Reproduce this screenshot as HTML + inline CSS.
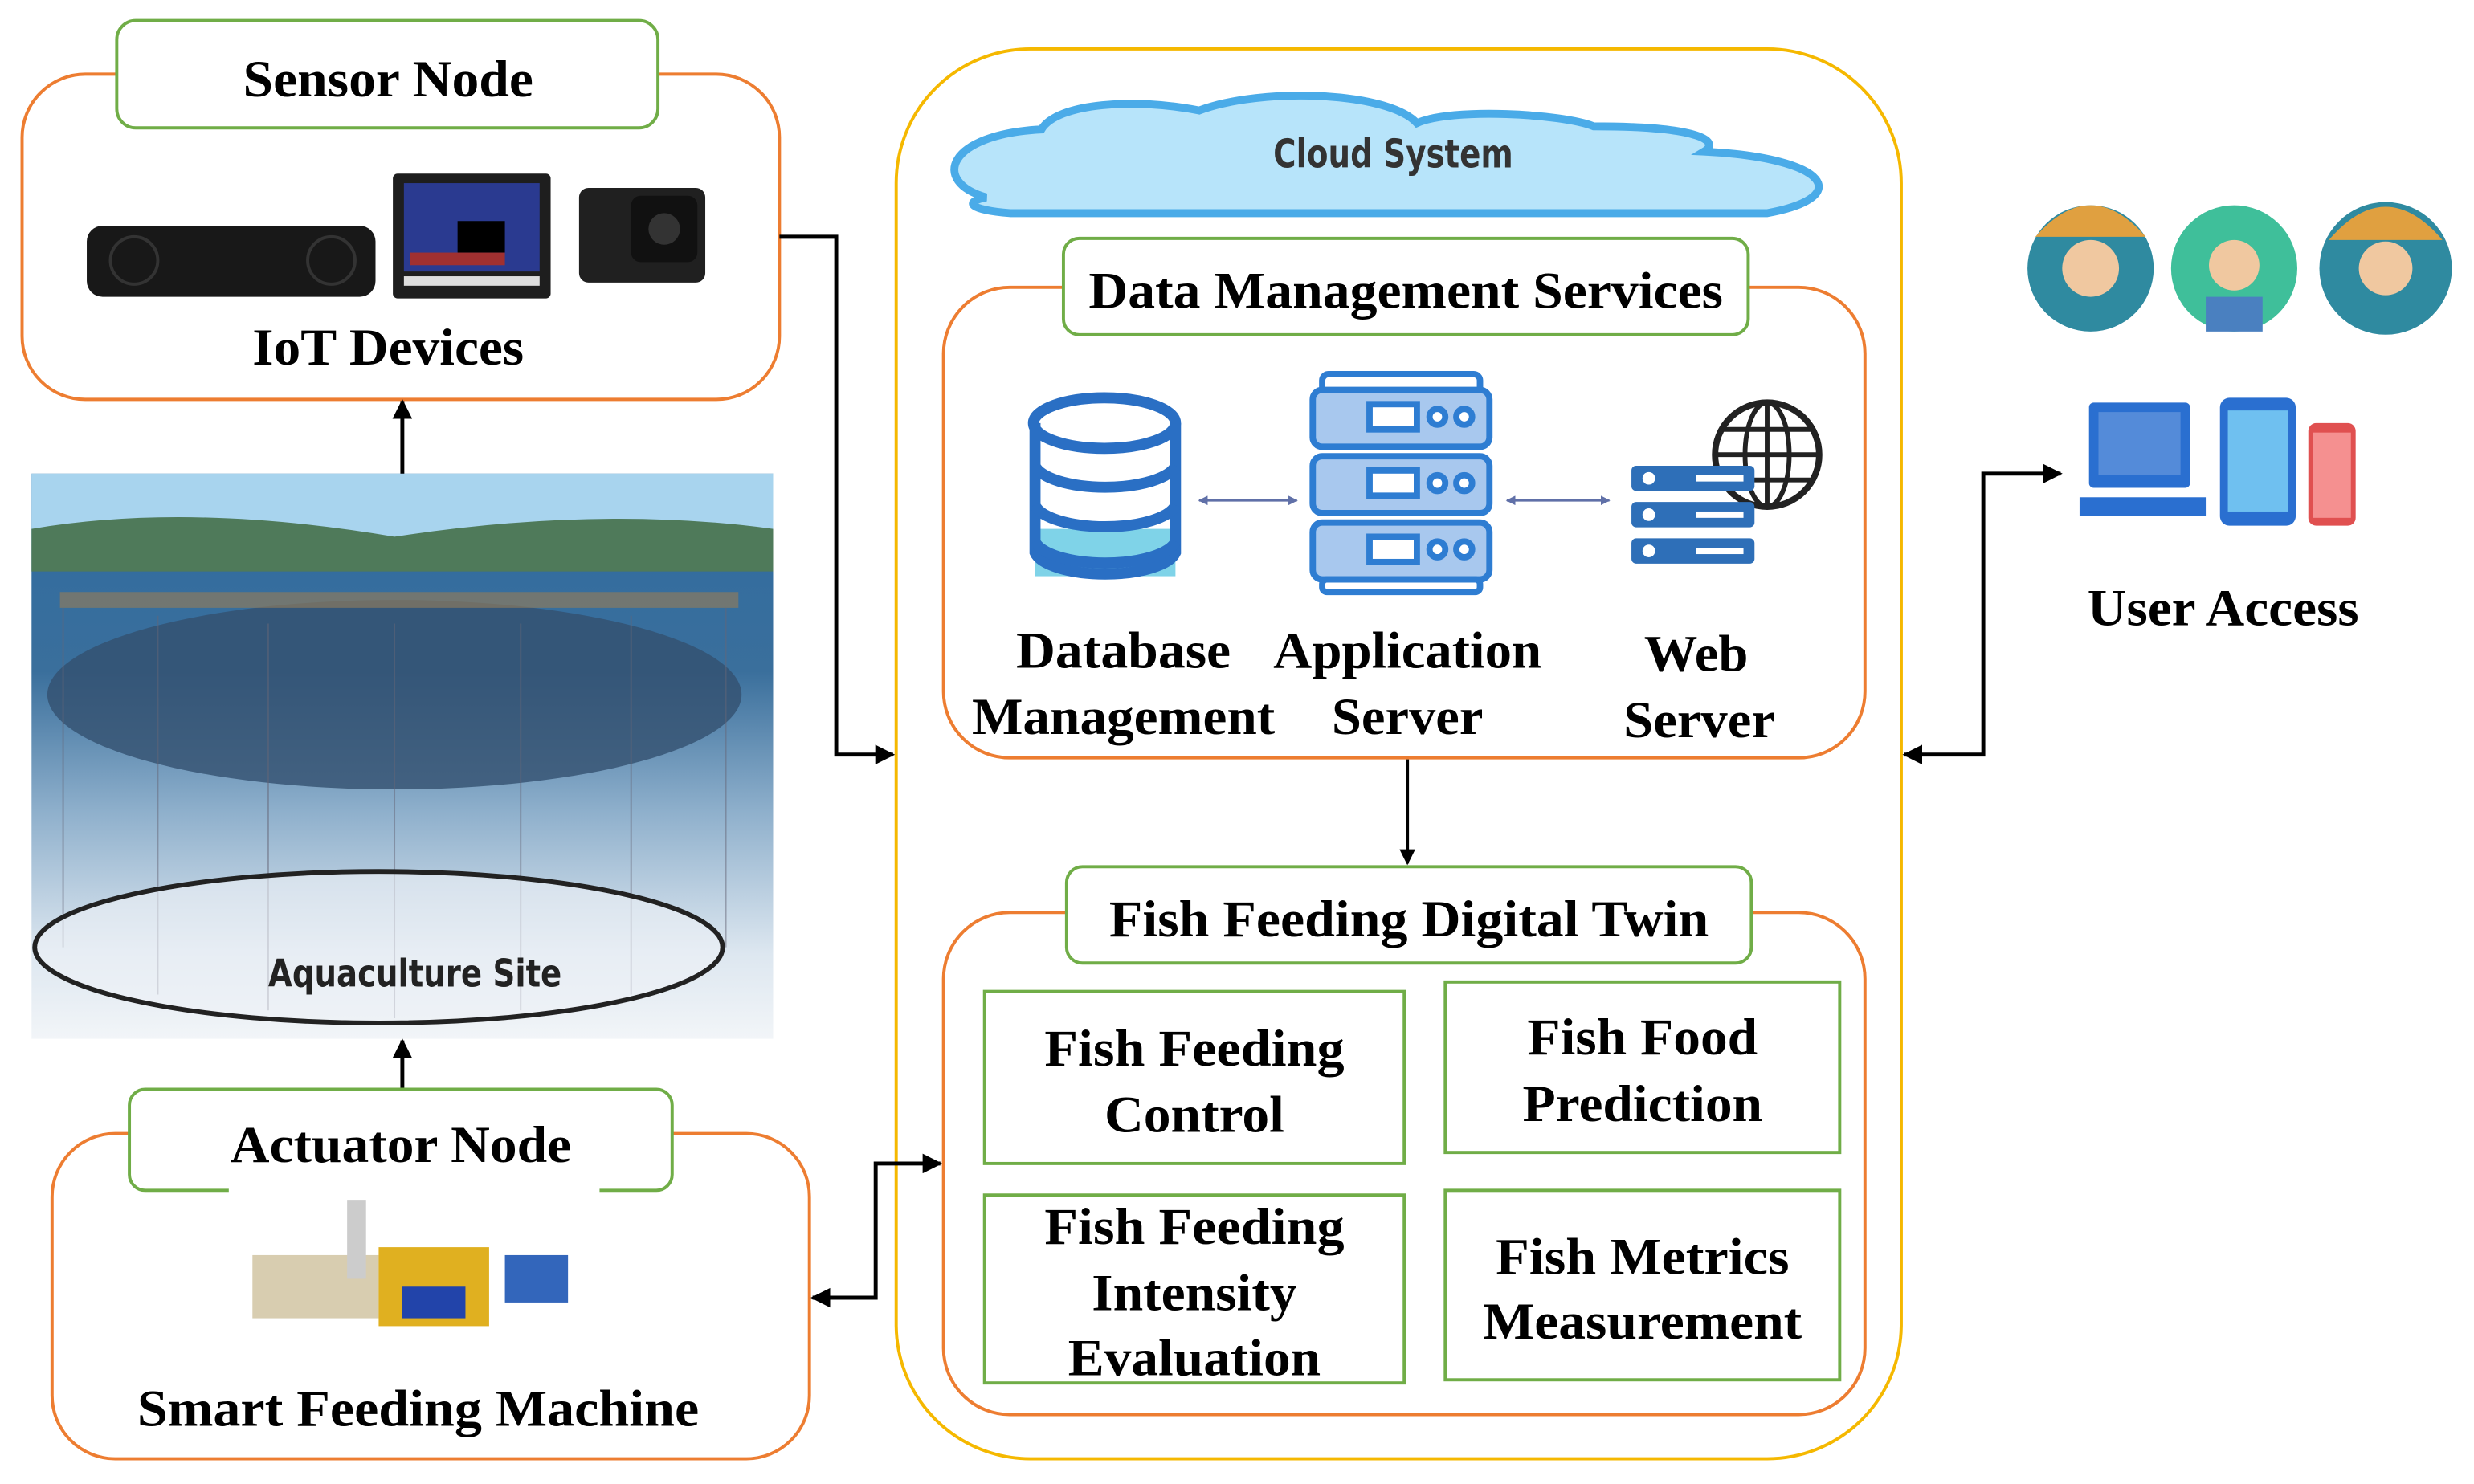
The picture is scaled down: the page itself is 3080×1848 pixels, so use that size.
<!DOCTYPE html>
<html><head><meta charset="utf-8"><style>html,body{margin:0;padding:0;background:#fff}svg{display:block}</style></head>
<body>
<svg width="3080" height="1848" viewBox="0 0 1568 940" preserveAspectRatio="none" xmlns="http://www.w3.org/2000/svg">
<defs>
<marker id="ah" viewBox="0 0 10 10" refX="9" refY="5" markerWidth="5" markerHeight="5" orient="auto-start-reverse"><path d="M0,0L10,5L0,10z" fill="#000"/></marker>
<marker id="bh" viewBox="0 0 10 10" refX="9" refY="5" markerWidth="4" markerHeight="4" orient="auto-start-reverse"><path d="M0,0L10,5L0,10z" fill="#6070a8"/></marker>
<linearGradient id="sea" x1="0" y1="0" x2="0" y2="1">
<stop offset="0" stop-color="#2f6ba0"/><stop offset="0.35" stop-color="#3a6f9c"/><stop offset="0.6" stop-color="#8fb0cc"/><stop offset="0.85" stop-color="#dde7f0"/><stop offset="1" stop-color="#f2f5f8"/></linearGradient>
</defs>
<g font-family="Liberation Serif, serif" font-weight="bold" fill="#000" text-anchor="middle">
<!-- cloud system container -->
<rect x="568" y="31" width="637" height="893" rx="85" fill="none" stroke="#f5b800" stroke-width="2"/>
<path d="M625,125 C590,115 600,85 660,82 C670,65 720,62 760,70 C800,55 880,58 898,78 C920,68 990,72 1010,80 C1080,80 1090,90 1080,96 C1160,100 1175,125 1120,135 L640,135 C615,133 610,128 625,125Z" fill="#b7e4fa" stroke="#4aabe8" stroke-width="5"/>
<text x="883" y="106" font-family="DejaVu Sans Condensed, Liberation Sans, sans-serif" font-size="25" fill="#333" textLength="152" lengthAdjust="spacingAndGlyphs">Cloud System</text>
<!-- DMS -->
<rect x="598" y="182" width="584" height="298" rx="42" fill="none" stroke="#ed7d31" stroke-width="2"/>
<rect x="674" y="151" width="434" height="61" rx="10" fill="#fff" stroke="#70ad47" stroke-width="2"/>
<text x="891" y="195" font-size="33" textLength="402" lengthAdjust="spacingAndGlyphs">Data Management Services</text>
<!-- database icon -->
<g fill="none" stroke="#2a6fc4" stroke-width="7">
<rect x="656" y="335" width="89" height="30" fill="#7fd3e8" stroke="none"/>
<ellipse cx="700" cy="268" rx="45" ry="16" fill="#fff"/>
<path d="M656,268 L656,350 A45,16 0 0 0 745,350 L745,268"/>
<path d="M656,295 A45,16 0 0 0 745,295 M656,320 A45,16 0 0 0 745,320 M656,343 A45,16 0 0 0 745,343"/>
</g>
<!-- app server -->
<g fill="#a8c8ee" stroke="#2e7dd2" stroke-width="4">
<rect x="838" y="237" width="100" height="12" rx="4" fill="#fff"/>
<rect x="832" y="247" width="112" height="36" rx="6"/>
<rect x="832" y="289" width="112" height="36" rx="6"/>
<rect x="832" y="331" width="112" height="36" rx="6"/>
<rect x="838" y="367" width="100" height="8" rx="3" fill="#fff"/>
<rect x="868" y="256" width="30" height="16" fill="#fff"/><rect x="868" y="298" width="30" height="16" fill="#fff"/><rect x="868" y="340" width="30" height="16" fill="#fff"/>
<circle cx="911" cy="264" r="5" fill="#fff"/><circle cx="928" cy="264" r="5" fill="#fff"/>
<circle cx="911" cy="306" r="5" fill="#fff"/><circle cx="928" cy="306" r="5" fill="#fff"/>
<circle cx="911" cy="348" r="5" fill="#fff"/><circle cx="928" cy="348" r="5" fill="#fff"/>
</g>
<!-- web server -->
<g>
<circle cx="1120" cy="288" r="33" fill="none" stroke="#222" stroke-width="4"/>
<ellipse cx="1120" cy="288" rx="14" ry="33" fill="none" stroke="#222" stroke-width="3"/>
<path d="M1087,288H1153M1120,255V321M1092,272H1148M1092,304H1148" stroke="#222" stroke-width="3"/>
<rect x="1034" y="295" width="78" height="16" rx="3" fill="#2e6fb8"/>
<rect x="1034" y="318" width="78" height="16" rx="3" fill="#2e6fb8"/>
<rect x="1034" y="341" width="78" height="16" rx="3" fill="#2e6fb8"/>
<g fill="#fff"><circle cx="1045" cy="303" r="4"/><circle cx="1045" cy="326" r="4"/><circle cx="1045" cy="349" r="4"/>
<rect x="1075" y="301" width="30" height="4"/><rect x="1075" y="324" width="30" height="4"/><rect x="1075" y="347" width="30" height="4"/></g>
</g>
<line x1="760" y1="317" x2="822" y2="317" stroke="#6070a8" stroke-width="1.5" marker-start="url(#bh)" marker-end="url(#bh)"/>
<line x1="955" y1="317" x2="1020" y2="317" stroke="#6070a8" stroke-width="1.5" marker-start="url(#bh)" marker-end="url(#bh)"/>
<g font-size="33">
<text x="712" y="423" textLength="136" lengthAdjust="spacingAndGlyphs">Database</text>
<text x="712" y="465" textLength="192" lengthAdjust="spacingAndGlyphs">Management</text>
<text x="892" y="423" textLength="170" lengthAdjust="spacingAndGlyphs">Application</text>
<text x="892" y="465" textLength="96" lengthAdjust="spacingAndGlyphs">Server</text>
<text x="1075" y="425" textLength="66" lengthAdjust="spacingAndGlyphs">Web</text>
<text x="1077" y="467" textLength="96" lengthAdjust="spacingAndGlyphs">Server</text>
</g>
<line x1="892" y1="481" x2="892" y2="547" stroke="#000" stroke-width="2" marker-end="url(#ah)"/>
<!-- FFDT -->
<rect x="598" y="578" width="584" height="318" rx="42" fill="none" stroke="#ed7d31" stroke-width="2"/>
<rect x="676" y="549" width="434" height="61" rx="10" fill="#fff" stroke="#70ad47" stroke-width="2"/>
<text x="893" y="593" font-size="33" textLength="380" lengthAdjust="spacingAndGlyphs">Fish Feeding Digital Twin</text>
<g fill="#fff" stroke="#70ad47" stroke-width="2">
<rect x="624" y="628" width="266" height="109"/><rect x="916" y="622" width="250" height="108"/>
<rect x="624" y="757" width="266" height="119"/><rect x="916" y="754" width="250" height="120"/>
</g>
<g font-size="33">
<text x="757" y="675" textLength="190" lengthAdjust="spacingAndGlyphs">Fish Feeding</text>
<text x="757" y="717" textLength="114" lengthAdjust="spacingAndGlyphs">Control</text>
<text x="1041" y="668" textLength="146" lengthAdjust="spacingAndGlyphs">Fish Food</text>
<text x="1041" y="710" textLength="152" lengthAdjust="spacingAndGlyphs">Prediction</text>
<text x="757" y="788" textLength="190" lengthAdjust="spacingAndGlyphs">Fish Feeding</text>
<text x="757" y="830" textLength="130" lengthAdjust="spacingAndGlyphs">Intensity</text>
<text x="757" y="871" textLength="160" lengthAdjust="spacingAndGlyphs">Evaluation</text>
<text x="1041" y="807" textLength="186" lengthAdjust="spacingAndGlyphs">Fish Metrics</text>
<text x="1041" y="848" textLength="202" lengthAdjust="spacingAndGlyphs">Measurement</text>
</g>
<!-- sensor node -->
<rect x="14" y="47" width="480" height="206" rx="40" fill="none" stroke="#ed7d31" stroke-width="2"/>
<rect x="74" y="13" width="343" height="68" rx="12" fill="#fff" stroke="#70ad47" stroke-width="2"/>
<text x="246" y="61" font-size="33" textLength="184" lengthAdjust="spacingAndGlyphs">Sensor Node</text>
<rect x="55" y="143" width="183" height="45" rx="10" fill="#181818"/>
<circle cx="85" cy="165" r="15" fill="none" stroke="#333" stroke-width="2"/><circle cx="210" cy="165" r="15" fill="none" stroke="#333" stroke-width="2"/>
<rect x="249" y="110" width="100" height="79" rx="3" fill="#1e1e1e"/>
<rect x="256" y="116" width="86" height="56" fill="#2a3a90"/><rect x="290" y="140" width="30" height="20" fill="#000"/><rect x="260" y="160" width="60" height="8" fill="#a03030"/>
<rect x="256" y="175" width="86" height="6" fill="#ddd"/>
<rect x="367" y="119" width="80" height="60" rx="6" fill="#202020"/><rect x="400" y="124" width="42" height="42" rx="6" fill="#111"/><circle cx="421" cy="145" r="10" fill="#333"/>
<text x="246" y="231" font-size="33" textLength="172" lengthAdjust="spacingAndGlyphs">IoT Devices</text>
<!-- aquaculture -->
<rect x="20" y="300" width="470" height="358" fill="url(#sea)"/>
<rect x="20" y="300" width="470" height="45" fill="#a8d4ee"/>
<path d="M20,335 Q120,318 250,340 Q380,320 490,335 L490,362 L20,362Z" fill="#4f7a5a"/>
<ellipse cx="250" cy="440" rx="220" ry="60" fill="#33506f" opacity="0.8"/>
<rect x="38" y="375" width="430" height="10" fill="#8a7a60" opacity="0.7"/>
<path d="M40,385 L40,600 M100,390 L100,630 M170,395 L170,640 M250,395 L250,645 M330,395 L330,640 M400,390 L400,630 M460,385 L460,600" stroke="#667" stroke-width="1" opacity="0.5"/>
<ellipse cx="240" cy="600" rx="218" ry="48" fill="#eef2f6" fill-opacity="0.6" stroke="#222" stroke-width="3"/>
<text x="263" y="625" font-family="DejaVu Sans Condensed, Liberation Sans, sans-serif" font-size="24" fill="#222" textLength="186" lengthAdjust="spacingAndGlyphs">Aquaculture Site</text>
<line x1="255" y1="300" x2="255" y2="254" stroke="#000" stroke-width="2.5" marker-end="url(#ah)"/>
<line x1="255" y1="690" x2="255" y2="659" stroke="#000" stroke-width="2.5" marker-end="url(#ah)"/>
<!-- actuator -->
<rect x="33" y="718" width="480" height="206" rx="40" fill="none" stroke="#ed7d31" stroke-width="2"/>
<rect x="82" y="690" width="344" height="64" rx="10" fill="#fff" stroke="#70ad47" stroke-width="2"/>
<rect x="145" y="745" width="235" height="14" fill="#fff"/>
<text x="254" y="736" font-size="33" textLength="216" lengthAdjust="spacingAndGlyphs">Actuator Node</text>
<rect x="160" y="795" width="80" height="40" fill="#d8cdb0"/><rect x="220" y="760" width="12" height="50" fill="#ccc"/>
<rect x="240" y="790" width="70" height="50" fill="#e0b020"/><rect x="255" y="815" width="40" height="20" fill="#2244aa"/>
<rect x="320" y="795" width="40" height="30" fill="#3366bb"/>
<text x="265" y="903" font-size="33" textLength="356" lengthAdjust="spacingAndGlyphs">Smart Feeding Machine</text>
<!-- connectors -->
<polyline points="494,150 530,150 530,478 566,478" fill="none" stroke="#000" stroke-width="2.5" marker-end="url(#ah)"/>
<polyline points="515,822 555,822 555,737 596,737" fill="none" stroke="#000" stroke-width="2.5" marker-start="url(#ah)" marker-end="url(#ah)"/>
<polyline points="1207,478 1257,478 1257,300 1306,300" fill="none" stroke="#000" stroke-width="2.5" marker-start="url(#ah)" marker-end="url(#ah)"/>
<!-- users -->
<circle cx="1325" cy="170" r="40" fill="#2f8aa0"/><circle cx="1325" cy="170" r="18" fill="#f0c8a0"/><path d="M1290,150 Q1325,110 1360,150Z" fill="#e0a040"/>
<circle cx="1416" cy="170" r="40" fill="#3fbf9a"/><circle cx="1416" cy="168" r="16" fill="#f0c8a0"/><rect x="1398" y="188" width="36" height="22" fill="#4a80c0"/>
<circle cx="1512" cy="170" r="42" fill="#2f8aa0"/><circle cx="1512" cy="170" r="17" fill="#f0c8a0"/><path d="M1476,152 Q1512,110 1548,152Z" fill="#e0a040"/>
<rect x="1324" y="255" width="64" height="54" rx="3" fill="#2a6fd0"/><rect x="1330" y="261" width="52" height="40" fill="#fff" opacity="0.2"/><rect x="1318" y="315" width="80" height="12" fill="#2a6fd0"/>
<rect x="1407" y="252" width="48" height="81" rx="6" fill="#2a6fd0"/><rect x="1412" y="260" width="38" height="64" fill="#6fc0f0"/>
<rect x="1463" y="268" width="30" height="65" rx="5" fill="#e05050"/><rect x="1466" y="274" width="24" height="54" fill="#f59090"/>
<text x="1409" y="396" font-size="33" textLength="172" lengthAdjust="spacingAndGlyphs">User Access</text>
</g>
</svg>
</body></html>
